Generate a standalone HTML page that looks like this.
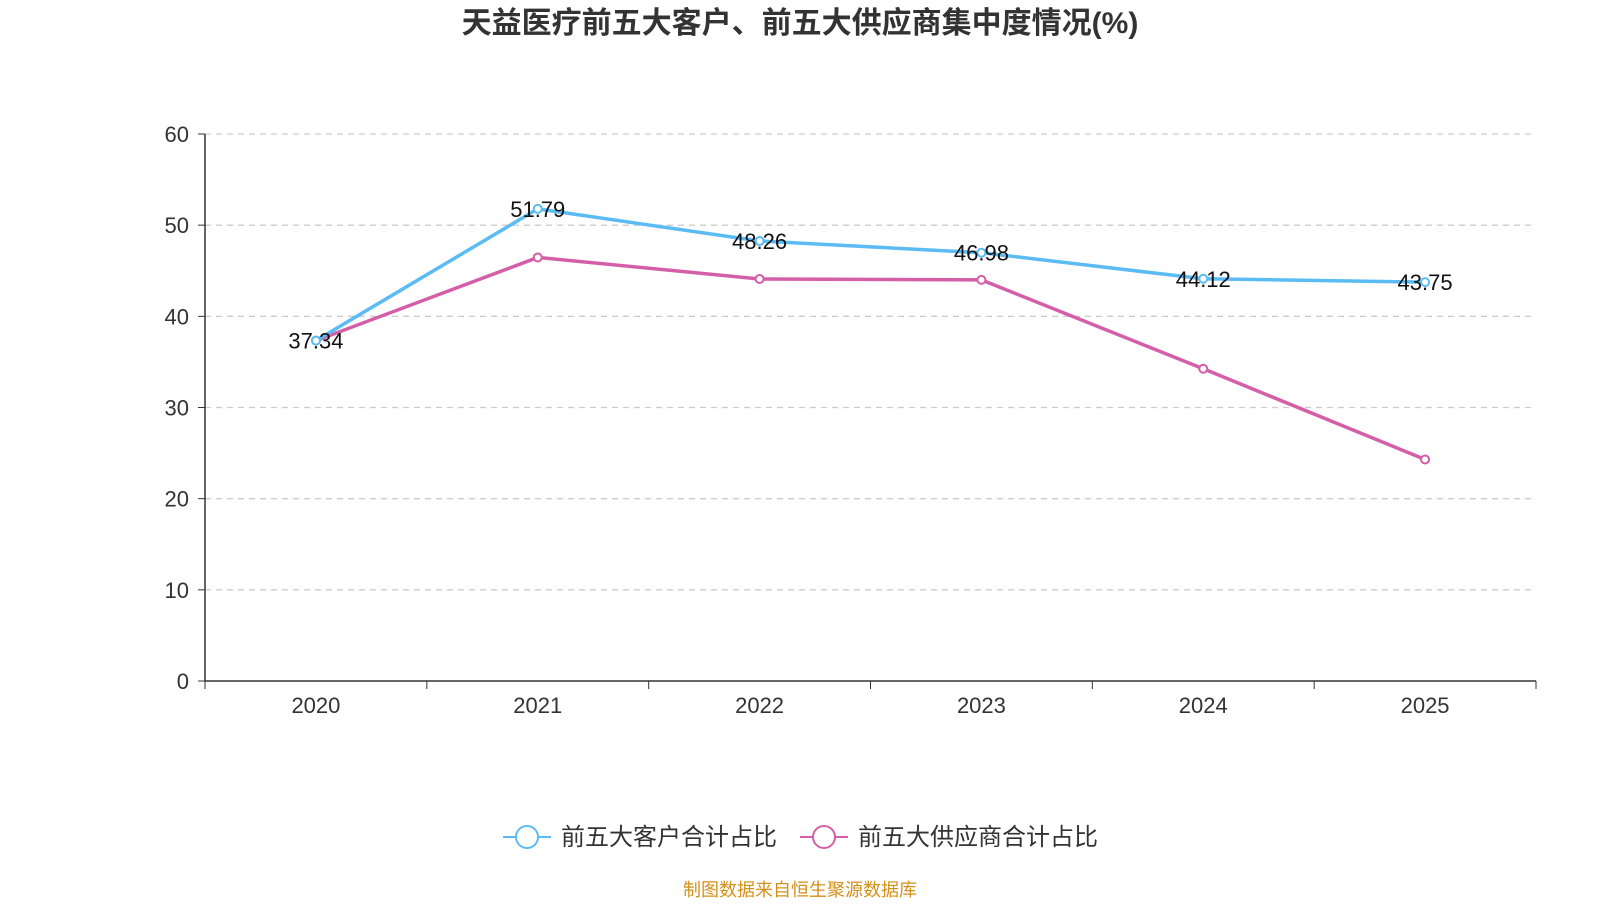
<!DOCTYPE html>
<html><head><meta charset="utf-8"><style>
body{margin:0;background:#fff;width:1600px;height:900px;overflow:hidden;font-family:"Liberation Sans","Noto Sans CJK SC",sans-serif}
</style></head><body>
<svg id="c" width="1600" height="900" font-family="'Liberation Sans','Noto Sans CJK SC',sans-serif"></svg>
<script>
const categories=["2020","2021","2022","2023","2024","2025"];
const customerVals=[37.34,51.79,48.26,46.98,44.12,43.75];
const supplierVals=[37.34,46.46,44.1,44.0,34.25,24.3];
const yTicks=[0,10,20,30,40,50,60];
const svg=document.getElementById('c');
const NS='http://www.w3.org/2000/svg';
const L=205,R=1536,T=134,B=681;
const x=i=>L+(R-L)/categories.length*(i+0.5);
const y=v=>B-(B-T)*v/60;
function mk(tag,attrs,parent){const e=document.createElementNS(NS,tag);for(const k in attrs)e.setAttribute(k,attrs[k]);(parent||svg).appendChild(e);return e;}
let t=mk('text',{x:800,y:33,'text-anchor':'middle','font-size':30,'font-weight':'bold',fill:'#333'});t.textContent='天益医疗前五大客户、前五大供应商集中度情况(%)';


yTicks.forEach(v=>{
 if(v>0){const g=mk('line',{x1:L,x2:R,y1:y(v),y2:y(v),stroke:'#ccc','stroke-dasharray':'6,5','stroke-width':1.3});
 
 }
 mk('line',{x1:L-7,x2:L,y1:y(v),y2:y(v),stroke:'#333'});
 const tx=mk('text',{x:L-16,y:y(v)+8,'text-anchor':'end','font-size':22,fill:'#333'});tx.textContent=v;
 
 
});
mk('line',{x1:L,x2:L,y1:T,y2:B,stroke:'#333','stroke-width':1.5});
mk('line',{x1:L,x2:R,y1:B,y2:B,stroke:'#333','stroke-width':1.5});
for(let i=0;i<=categories.length;i++){const xx=L+(R-L)/categories.length*i;mk('line',{x1:xx,x2:xx,y1:B,y2:B+8,stroke:'#333'});}
categories.forEach((c,i)=>{const tx=mk('text',{x:x(i),y:B+32,'text-anchor':'middle','font-size':22,fill:'#333'});tx.textContent=c;
 
 });
function series(vals,color,name,labels){
 const p=mk('polyline',{points:vals.map((v,i)=>x(i)+','+y(v)).join(' '),fill:'none',stroke:color,'stroke-width':3.5});
 
 
 vals.forEach((v,i)=>{const c=mk('circle',{cx:x(i),cy:y(v),r:4,fill:'#fff',stroke:color,'stroke-width':2});
  
  
  if(labels){const tx=mk('text',{x:x(i),y:y(v)+8,'text-anchor':'middle','font-size':22,fill:'#111'});tx.textContent=v.toFixed(2);
  
  }
 });
}
series(supplierVals,'#d45fa8','supplier',false);
series(customerVals,'#5bbcf3','customer',true);
function legend(lx,color,label,name){
 const g=mk('g',{});
 
 
 mk('line',{x1:lx,x2:lx+48,y1:837,y2:837,stroke:color,'stroke-width':2},g);
 mk('circle',{cx:lx+24,cy:837,r:11,fill:'#fff',stroke:color,'stroke-width':2},g);
 const tx=mk('text',{x:lx+58,y:845,'font-size':24,fill:'#333'},g);tx.textContent=label;
}
legend(503,'#5bbcf3','前五大客户合计占比','legend-customer');
legend(800,'#d45fa8','前五大供应商合计占比','legend-supplier');
const f=mk('text',{x:800,y:896,'text-anchor':'middle','font-size':18,fill:'#d4901a'});f.textContent='制图数据来自恒生聚源数据库';


</script>
</body></html>
